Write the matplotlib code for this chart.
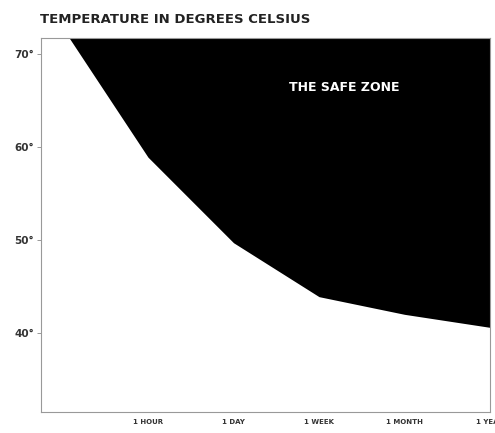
import matplotlib.pyplot as plt

# time points (category positions) and threshold temperature
x_pos = [0.08, 1, 2, 3, 4, 5]
temps = [71.7, 58.9, 49.7, 43.9, 42.0, 40.6]
x_ticks = [1, 2, 3, 4, 5]
x_labels = ['1 HOUR', '1 DAY', '1 WEEK', '1 MONTH', '1 YEAR']
y_ticks = [70, 60, 50, 40]
y_labels = ['70°', '60°', '50°', '40°']

FONT = ['Liberation Sans Narrow', 'DejaVu Sans']

fig = plt.figure(figsize=(4.95, 4.33), dpi=100)
ax = fig.add_axes([0.083, 0.0485, 0.907, 0.8635])

ax.fill_between(x_pos, temps, 80, color='black', linewidth=0)
ax.set_xlim(-0.25, 5)
ax.set_ylim(31.5, 71.7)

ax.set_xticks(x_ticks)
ax.set_xticklabels(x_labels, family=FONT, fontsize=5, fontweight='bold', color='#333333')
ax.set_yticks(y_ticks)
ax.set_yticklabels(y_labels, family=FONT, fontsize=7.5, fontweight='bold', color='#333333')
ax.tick_params(axis='x', length=0, pad=5)
ax.tick_params(axis='y', length=3, width=0.6, color='#888888', pad=2)

for s in ax.spines.values():
    s.set_color('#999999')
    s.set_linewidth(0.8)

ax.text(3.3, 66.4, 'THE SAFE ZONE', color='white', family=FONT,
        fontsize=9, fontweight='bold', ha='center', va='center')

fig.text(0.08, 0.955, 'TEMPERATURE IN DEGREES CELSIUS', family=FONT,
         fontsize=9.5, fontweight='bold', color='#222222', ha='left', va='center')

fig.savefig('out.png', dpi=100)
